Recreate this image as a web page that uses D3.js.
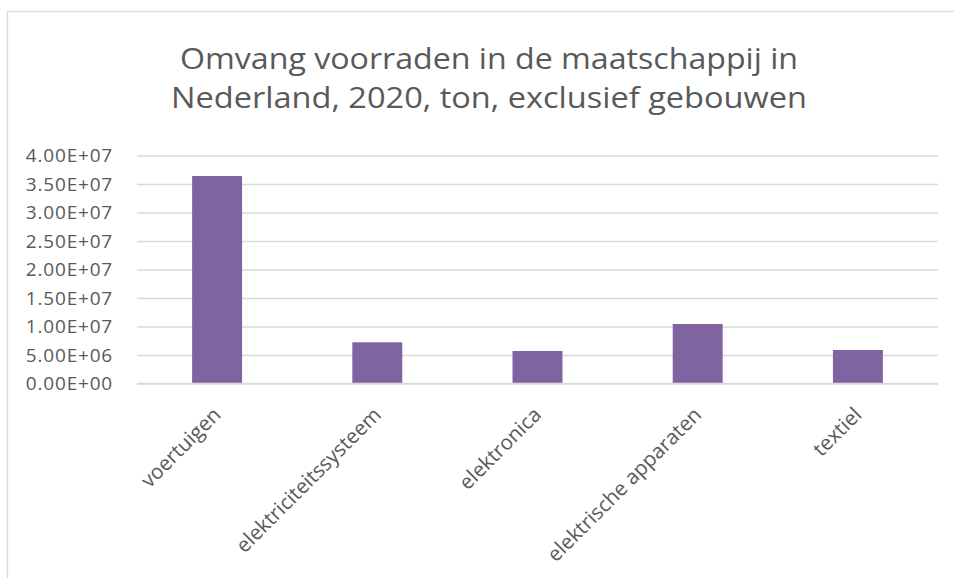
<!DOCTYPE html>
<html>
<head>
<meta charset="utf-8">
<script src="https://cdn.jsdelivr.net/npm/d3@7"></script>
<style>
  body { margin: 0; background: #fff; }
  text { font-family: "Open Sans", sans-serif; fill: #595959; }
</style>
</head>
<body>
<div id="chart"></div>
<script>
const categories = ["voertuigen", "elektriciteitssysteem", "elektronica", "elektrische apparaten", "textiel"];
const values = [3.64e7, 7.23e6, 5.70e6, 1.044e7, 5.88e6];
const yTicks = [0, 5e6, 1e7, 1.5e7, 2e7, 2.5e7, 3e7, 3.5e7, 4e7];
const titleLines = ["Omvang voorraden in de maatschappij in", "Nederland, 2020, ton, exclusief gebouwen"];

const width = 954;
const height = 578;
const plot = { left: 137, right: 938, top: 155.5, bottom: 383.5 };

const svg = d3.select("#chart")
  .append("svg")
  .attr("width", width)
  .attr("height", height);

// chart frame (right / bottom edges fall outside the picture)
svg.append("rect")
  .attr("x", 7.5)
  .attr("y", 11.5)
  .attr("width", 960)
  .attr("height", 600)
  .attr("fill", "#fff")
  .attr("stroke", "#d9d9d9")
  .attr("stroke-width", 1.3);

const titleWidths = [618, 636];
svg.append("g")
  .selectAll("text")
  .data(titleLines)
  .enter()
  .append("text")
  .attr("x", 489)
  .attr("y", (d, i) => 69 + i * 39)
  .attr("text-anchor", "middle")
  .attr("textLength", (d, i) => titleWidths[i])
  .attr("lengthAdjust", "spacingAndGlyphs")
  .style("font-size", "28.5px")
  .text(d => d);

const x = d3.scaleBand()
  .domain(categories)
  .range([plot.left, plot.right])
  .paddingInner(0.688)
  .paddingOuter(0.344);

const y = d3.scaleLinear()
  .domain([0, 4e7])
  .range([plot.bottom, plot.top]);

const fmt = d => {
  const [m, e] = d.toExponential(2).split("e");
  const n = Math.abs(+e);
  return `${m}E${+e < 0 ? "-" : "+"}${n < 10 ? "0" + n : n}`;
};

const yAxis = svg.append("g")
  .attr("transform", `translate(${plot.left},0)`)
  .call(d3.axisLeft(y)
    .tickValues(yTicks)
    .tickSize(-(plot.right - plot.left))
    .tickPadding(24)
    .tickFormat(fmt));

yAxis.select(".domain").remove();
yAxis.selectAll("line")
  .attr("stroke", "#d9d9d9")
  .attr("stroke-width", 1.4);
yAxis.selectAll("text")
  .style("font-size", "19px")
  .style("letter-spacing", "0.8px")
  .style("font-family", "'Open Sans', sans-serif")
  .attr("fill", "#595959");

svg.append("g")
  .selectAll("rect")
  .data(values)
  .enter()
  .append("rect")
  .attr("x", (d, i) => x(categories[i]))
  .attr("y", d => y(d))
  .attr("width", x.bandwidth())
  .attr("height", d => y(0) - y(d))
  .attr("fill", "#8064a2");

svg.append("line")
  .attr("x1", plot.left)
  .attr("x2", plot.right)
  .attr("y1", y(0))
  .attr("y2", y(0))
  .attr("stroke", "#d9d9d9")
  .attr("stroke-width", 1.4);

svg.append("g")
  .selectAll("text")
  .data(categories)
  .enter()
  .append("text")
  .attr("transform", d => `translate(${x(d) + x.bandwidth() / 2 + 5},${416}) rotate(-45)`)
  .attr("text-anchor", "end")
  .style("font-size", "20.5px")
  .text(d => d);
</script>
</body>
</html>
